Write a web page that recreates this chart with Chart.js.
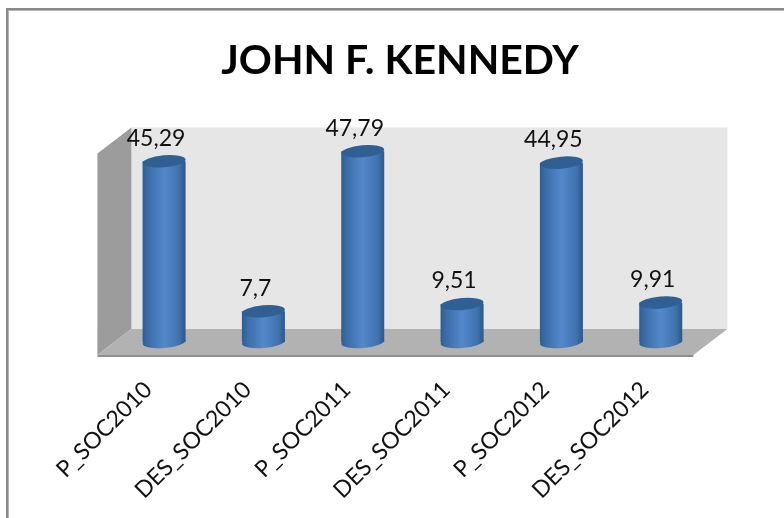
<!DOCTYPE html>
<html>
<head>
<meta charset="utf-8">
<script src="https://cdn.jsdelivr.net/npm/chart.js@4"></script>
<style>
  html, body { margin: 0; padding: 0; background: #fff; }
  #wrap { position: relative; width: 784px; height: 518px; overflow: hidden; }
</style>
</head>
<body>
<div id="wrap"><canvas id="chart" width="784" height="518"></canvas></div>
<script>
const categories = ['P_SOC2010', 'DES_SOC2010', 'P_SOC2011', 'DES_SOC2011', 'P_SOC2012', 'DES_SOC2012'];
const values = [45.29, 7.7, 47.79, 9.51, 44.95, 9.91];
const valueLabels = ['45,29', '7,7', '47,79', '9,51', '44,95', '9,91'];
const chartTitle = 'JOHN F. KENNEDY';

const FONT = 'Lato, Carlito, sans-serif';
const DEPTH_X = 17;
const DEPTH_Y = 13;

function poly(ctx, pts, fill) {
  ctx.beginPath();
  pts.forEach((p, i) => i ? ctx.lineTo(p[0], p[1]) : ctx.moveTo(p[0], p[1]));
  ctx.closePath();
  ctx.fillStyle = fill;
  ctx.fill();
}

function barGradient(ctx, x, w) {
  const g = ctx.createLinearGradient(x - w / 2, 0, x + w / 2, 0);
  g.addColorStop(0, '#2f5d92');
  g.addColorStop(0.12, '#3a6ca6');
  g.addColorStop(0.5, '#5388cb');
  g.addColorStop(0.85, '#3f72ad');
  g.addColorStop(1, '#2c5788');
  return g;
}

// frame + 3D walls and floor, sized from the chart area
const backdrop = {
  id: 'backdrop',
  beforeDraw(chart) {
    const { ctx, chartArea: a } = chart;
    const base = chart.scales.y.getPixelForValue(0);
    const top = chart.scales.y.getPixelForValue(50);
    ctx.save();
    ctx.fillStyle = '#8a8a8a';
    ctx.fillRect(6, 8, 778, 2);
    ctx.fillRect(6, 8, 2, 510);
    ctx.fillStyle = '#b4b4b4';
    ctx.fillRect(8, 10, 776, 1);
    ctx.fillRect(8, 10, 1, 508);

    const bl = a.left + DEPTH_X, br = a.right + DEPTH_X;
    const fl = a.left - DEPTH_X, fr = a.right - DEPTH_X;
    const backTop = top - DEPTH_Y - 2, frontTop = top + DEPTH_Y - 2;
    poly(ctx, [[bl, backTop], [br, backTop], [br, base - DEPTH_Y], [bl, base - DEPTH_Y]], '#e6e6e6');
    poly(ctx, [[fl, frontTop], [bl, backTop], [bl, base - DEPTH_Y], [fl, base + DEPTH_Y]], '#9c9c9c');
    poly(ctx, [[fl, base + DEPTH_Y], [bl, base - DEPTH_Y], [br, base - DEPTH_Y], [fr, base + DEPTH_Y]], '#b2b2b2');
    poly(ctx, [[fl, base + DEPTH_Y], [fr, base + DEPTH_Y], [fr, base + DEPTH_Y + 2], [fl, base + DEPTH_Y + 2]], '#8e8e8e');
    ctx.restore();
  }
};

// rounded bottoms, caps and value labels on top of the library's bars
const cylinders = {
  id: 'cylinders',
  afterDatasetsDraw(chart) {
    const { ctx } = chart;
    const tilt = -5 * Math.PI / 180;
    ctx.save();
    chart.getDatasetMeta(0).data.forEach((bar, i) => {
      const r = bar.width / 2;
      ctx.beginPath();
      ctx.ellipse(bar.x, bar.base, r, 6, tilt, 0, Math.PI * 2);
      ctx.fillStyle = barGradient(ctx, bar.x, bar.width);
      ctx.fill();

      ctx.beginPath();
      ctx.ellipse(bar.x, bar.y, r, 6, tilt, 0, Math.PI * 2);
      ctx.fillStyle = '#305f94';
      ctx.fill();

      ctx.fillStyle = '#111';
      ctx.font = '23px ' + FONT;
      ctx.textAlign = 'center';
      ctx.textBaseline = 'middle';
      ctx.fillText(valueLabels[i], bar.x - 8, bar.y - 23);
    });
    ctx.restore();
  }
};

new Chart(document.getElementById('chart'), {
  type: 'bar',
  data: {
    labels: categories,
    datasets: [{
      data: values,
      categoryPercentage: 1,
      barPercentage: 0.433,
      borderWidth: 0,
      backgroundColor(c) {
        const x = c.chart.scales.x;
        const px = x ? x.getPixelForValue(c.dataIndex) : NaN;
        if (!Number.isFinite(px)) return '#4f81bd';
        return barGradient(c.chart.ctx, px, 43);
      }
    }]
  },
  options: {
    responsive: false,
    animation: false,
    layout: { padding: { left: 89.6, right: 73.6, top: 0, bottom: 0 } },
    plugins: {
      legend: { display: false },
      tooltip: { enabled: false },
      title: {
        display: true,
        text: chartTitle,
        color: '#000',
        font: { family: FONT, size: 41, weight: 'bold' },
        padding: { top: 36, bottom: 57.3 }
      }
    },
    scales: {
      x: {
        grid: { display: false },
        border: { display: false },
        afterFit(s) { s.height = 176; },
        ticks: {
          autoSkip: false,
          minRotation: 45,
          maxRotation: 45,
          padding: 26,
          labelOffset: -16,
          color: '#111',
          font: { family: FONT, size: 23 }
        }
      },
      y: {
        min: 0,
        max: 50,
        grid: { display: false },
        border: { display: false },
        ticks: { display: false },
        afterFit(s) { s.width = 24.8; }
      }
    }
  },
  plugins: [backdrop, cylinders]
});
</script>
</body>
</html>
